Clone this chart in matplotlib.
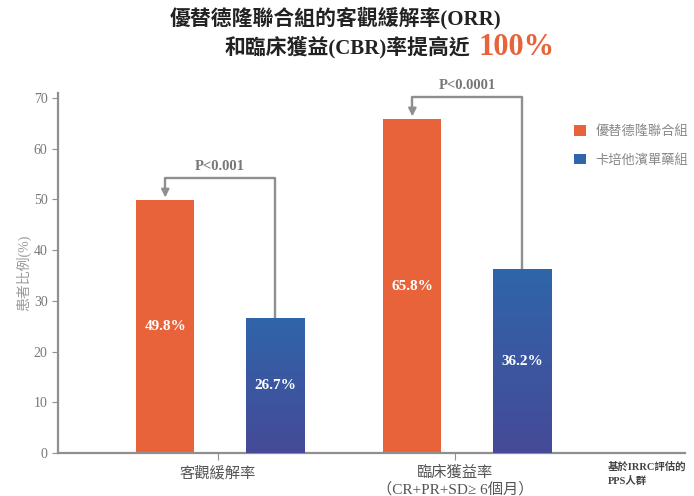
import numpy as np
import matplotlib.pyplot as plt
from matplotlib.colors import LinearSegmentedColormap

categories = ["客觀緩解率", "臨床獲益率\n（CR+PR+SD≥ 6個月）"]
series_names = ["優替德隆聯合組", "卡培他濱單藥組"]
combo_values = [49.8, 65.8]
mono_values = [26.7, 36.2]
p_values = ["P<0.001", "P<0.0001"]

orange = "#e9633a"
blue_top = "#2f65aa"
blue_bottom = "#464a97"
gray = "#8f8f8f"
cjk = ["Liberation Serif", "Noto Sans CJK TC"]

plt.rcParams["font.family"] = cjk

fig = plt.figure(figsize=(6.94, 4.96), dpi=100)
ax = fig.add_axes([0.0836, 0.0867, 0.903, 0.7258])

x = np.arange(len(categories))
w = 0.235
off = 0.222
bars1 = ax.bar(x - off, combo_values, w, color=orange, label=series_names[0], zorder=2)
bars2 = ax.bar(x + off, mono_values, w, color=blue_top, label=series_names[1], zorder=2)

# gradient fill for the blue bars
cmap = LinearSegmentedColormap.from_list("bl", [blue_bottom, blue_top])
grad = np.linspace(0, 1, 256).reshape(-1, 1)
for b in bars2:
    x0, y0 = b.get_x(), b.get_y()
    im = ax.imshow(grad, cmap=cmap, origin="lower", aspect="auto",
                   extent=[x0, x0 + b.get_width(), y0, y0 + b.get_height()], zorder=3)
    im.set_clip_path(b)

for b, v in list(zip(bars1, combo_values)) + list(zip(bars2, mono_values)):
    ax.text(b.get_x() + b.get_width() / 2, v / 2, f"{v}%", color="white",
            ha="center", va="center", fontsize=11, fontweight="bold", zorder=4)

# significance brackets
for i, p in enumerate(p_values):
    xa = x[i] - off
    xb = x[i] + off
    top = combo_values[i] + 4.4
    ax.plot([xb, xb, xa, xa], [mono_values[i], top, top, combo_values[i] + 1.6],
            color=gray, lw=1.7, zorder=1, clip_on=False)
    ax.annotate("", xy=(xa, combo_values[i] + 0.6), xytext=(xa, combo_values[i] + 2.0),
                arrowprops=dict(arrowstyle="-|>", color=gray, lw=1.4,
                                mutation_scale=12, shrinkA=0, shrinkB=0),
                annotation_clip=False)
    ax.text((xa + xb) / 2, top + 1.0, p, color="#777777", ha="center", va="bottom",
            fontsize=10.5, fontweight="bold", clip_on=False)

ax.set_xlim(-0.656, 1.88)
ax.set_ylim(0, 71)
ax.set_yticks(range(0, 71, 10))
ax.set_xticks(x + np.array([-0.01, -0.05]))
ax.set_xticklabels(categories, fontsize=11, color="#555555")
ax.tick_params(axis="y", colors="#777777", labelsize=10, length=4, color=gray)
ax.tick_params(axis="x", length=5, color=gray, pad=4)
for s in ["top", "right"]:
    ax.spines[s].set_visible(False)
for s in ["left", "bottom"]:
    ax.spines[s].set_color(gray)
    ax.spines[s].set_linewidth(1.6)

ax.set_ylabel("患者比例(%)", color="#999999", fontsize=10, labelpad=2)

leg = ax.legend(loc="upper left", bbox_to_anchor=(0.805, 0.945), frameon=False,
                fontsize=9.5, handlelength=0.9, handleheight=0.9, labelspacing=1.2,
                handletextpad=0.7)
for t in leg.get_texts():
    t.set_color("#888888")

fig.text(0.876, 0.045, "基於IRRC評估的\nPPS人群", fontsize=7.5, fontweight="bold",
         color="#444444", ha="left", va="center", linespacing=1.5)

fig.text(0.484, 0.963, "優替德隆聯合組的客觀緩解率(ORR)", fontsize=15, fontweight="bold",
         ha="center", va="center", color="#222222")
fig.text(0.677, 0.905, "和臨床獲益(CBR)率提高近", fontsize=15, fontweight="bold",
         ha="right", va="center", color="#222222")
fig.text(0.69, 0.905, "100%", fontsize=22, fontweight="bold",
         ha="left", va="center", color=orange)

fig.savefig("out.png", dpi=100)
